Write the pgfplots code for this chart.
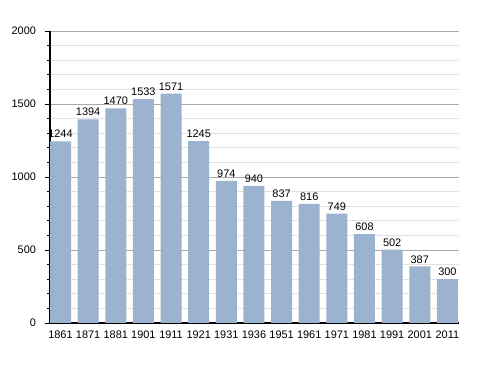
\documentclass[border=0pt]{standalone}
\usepackage{pgfplots}
\pgfplotsset{compat=1.18}
\usepackage{fontspec}
\setmainfont{Liberation Sans}
\definecolor{barc}{RGB}{155,179,207}
\definecolor{majg}{RGB}{170,170,170}
\definecolor{ming}{RGB}{225,225,225}
\begin{document}
\begin{tikzpicture}[x=0.75pt,y=0.75pt]
\useasboundingbox (-50,-50) rectangle (438,323);
\begin{axis}[
  at={(0,0)}, anchor=south west,
  scale only axis, width=306.75pt, height=219pt,
  xmin=-0.38, xmax=14.42, ymin=0, ymax=2000,
  axis x line*=bottom, axis y line*=left,
  axis line style={black, line width=0.8pt},
  ybar, bar width=0.76, bar shift=0pt,
  ytick={0,500,1000,1500,2000},
  minor ytick={100,200,300,400,600,700,800,900,1100,1200,1300,1400,1600,1700,1800,1900},
  ymajorgrids, yminorgrids,
  major grid style={majg, line width=0.6pt},
  minor grid style={ming, line width=0.5pt},
  tick align=outside,
  major tick length=4pt, minor tick length=2pt,
  ytick style={black, line width=0.6pt},
  xtick=data, xtick style={draw=none},
  xticklabels={1861,1871,1881,1901,1911,1921,1931,1936,1951,1961,1971,1981,1991,2001,2011},
  ticklabel style={font=\fontsize{8.2}{9.5}\selectfont},
  /pgf/number format/assume math mode=true,
  /pgf/number format/1000 sep={},
  xticklabel style={yshift=2pt},
  yticklabel style={xshift=-3pt},
  nodes near coords,
  nodes near coords style={font=\fontsize{8.2}{9.5}\selectfont, /pgf/number format/1000 sep={}, /pgf/number format/assume math mode=true, yshift=-1pt},
  clip=false,
]
\addplot[fill=barc, draw=none] coordinates {
(0,1244) (1,1394) (2,1470) (3,1533) (4,1571) (5,1245) (6,974) (7,940)
(8,837) (9,816) (10,749) (11,608) (12,502) (13,387) (14,300)};
\end{axis}
\end{tikzpicture}
\end{document}
